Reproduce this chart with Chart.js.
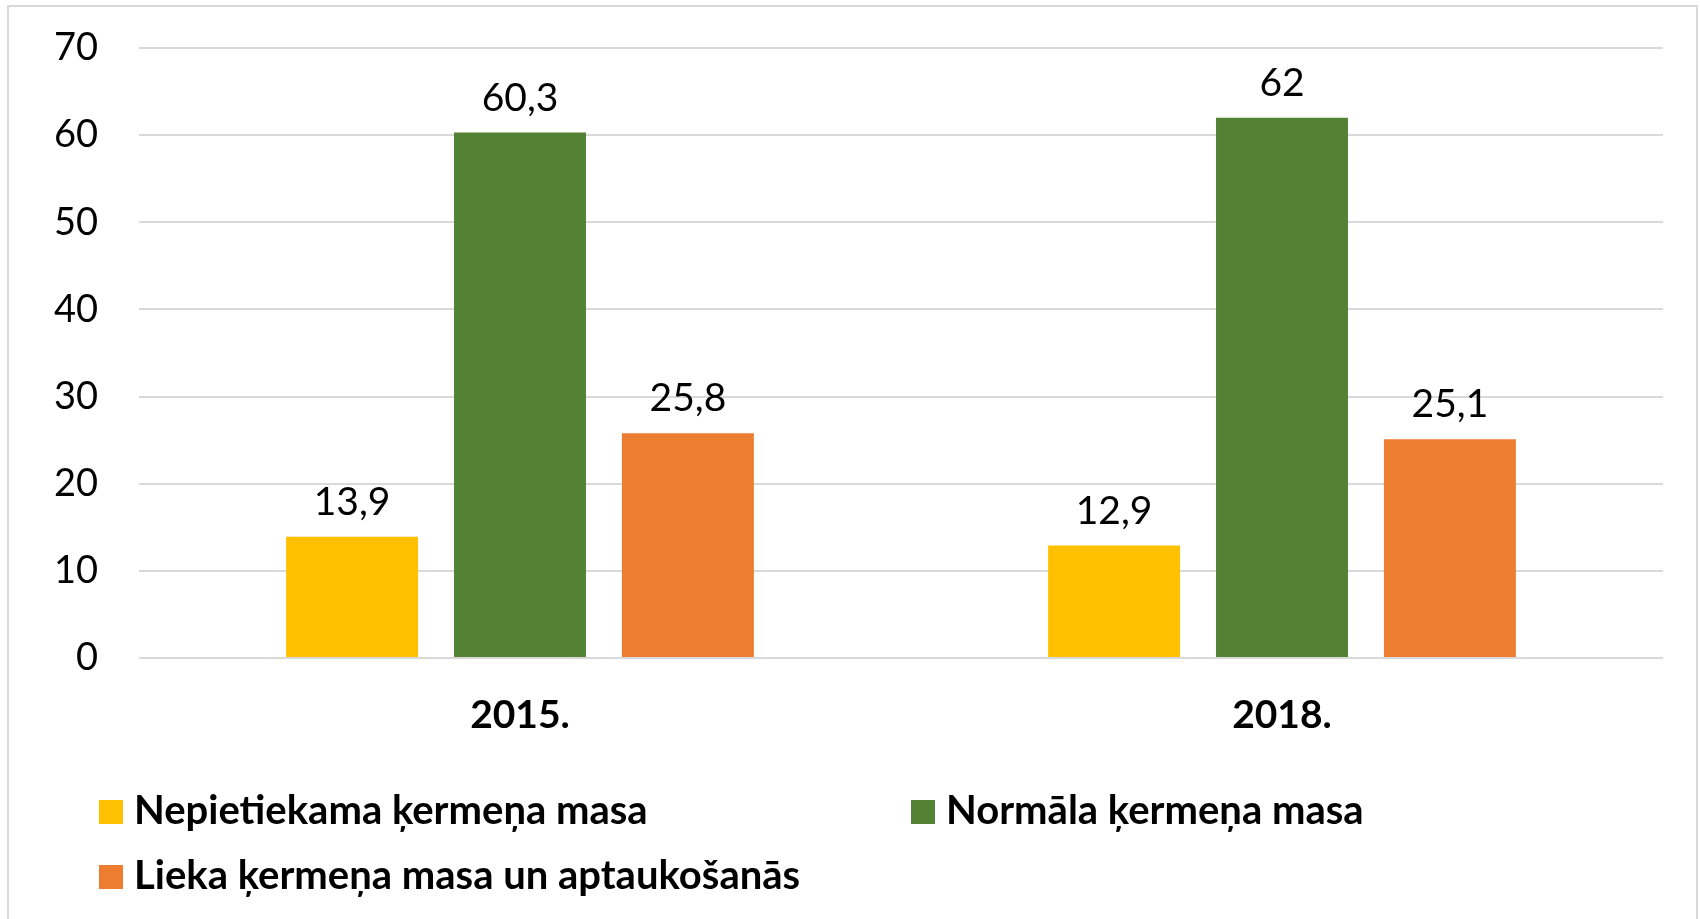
<!DOCTYPE html>
<html>
<head>
<meta charset="utf-8">
<script src="https://cdn.jsdelivr.net/npm/chart.js@4"></script>
<style>
  body { margin: 0; background: #fff; font-family: Lato, sans-serif; }
  #frame { position: absolute; left: 7px; top: 5px; width: 1687px; height: 940px; border: 2px solid #d9d9d9; }
  #wrap { position: absolute; left: 0; top: 0; width: 1700px; height: 760px; }
  #legend { position: absolute; left: 0; top: 0; width: 1700px; height: 919px; pointer-events: none; }
  .item { position: absolute; font: bold 40px Lato, sans-serif; color: #000; white-space: nowrap; line-height: 40px; }
  .item span.box { display: inline-block; width: 24px; height: 24px; margin-right: 11px; vertical-align: 0px; }
</style>
</head>
<body>
<div id="frame"></div>
<div id="wrap"><canvas id="graphiks"></canvas></div>
<div id="legend"></div>
<script>
var gadi = ["2015.", "2018."];
var nepietiekama = [13.9, 12.9];
var normala = [60.3, 62];
var lieka = [25.8, 25.1];
var asisTicks = [0, 10, 20, 30, 40, 50, 60, 70];

var nosaukumi = ["Nepietiekama ķermeņa masa", "Normāla ķermeņa masa", "Lieka ķermeņa masa un aptaukošanās"];
var krasas = ["#FFC000", "#548235", "#ED7D31"];

function formatet(v) {
    return String(v).replace(".", ",");
}

var vertibuEtiketes = {
    id: "vertibuEtiketes",
    afterDatasetsDraw: function(chart) {
        var ctx = chart.ctx;
        ctx.save();
        ctx.font = "39px Lato";
        ctx.fillStyle = "#000";
        ctx.textAlign = "center";
        ctx.textBaseline = "alphabetic";
        chart.data.datasets.forEach(function(ds, i) {
            chart.getDatasetMeta(i).data.forEach(function(bar, j) {
                ctx.fillText(formatet(ds.data[j]), bar.x, bar.y - 22);
            });
        });
        ctx.restore();
    }
};

var ctx = document.getElementById("graphiks").getContext("2d");
var chart = new Chart(ctx, {
    type: "bar",
    data: {
        labels: gadi,
        datasets: [
            { label: nosaukumi[0], data: nepietiekama, backgroundColor: krasas[0] },
            { label: nosaukumi[1], data: normala, backgroundColor: krasas[1] },
            { label: nosaukumi[2], data: lieka, backgroundColor: krasas[2] }
        ]
    },
    options: {
        responsive: true,
        maintainAspectRatio: false,
        animation: false,
        layout: { padding: { top: 48, right: 37, left: 0, bottom: 0 } },
        datasets: { bar: { categoryPercentage: 0.661, barPercentage: 0.786 } },
        plugins: {
            legend: { display: false },
            tooltip: { enabled: false }
        },
        scales: {
            x: {
                grid: { display: false },
                border: { display: false },
                ticks: { color: "#000", font: { family: "Lato", size: 39, weight: "bold" }, padding: 26 },
                afterFit: function(scale) { scale.height = 102; }
            },
            y: {
                min: 0,
                max: 70,
                afterBuildTicks: function(scale) {
                    scale.ticks = asisTicks.map(function(v) { return { value: v }; });
                },
                // tick marks kept invisible, they only push the labels away from the plot
                grid: { color: "#d9d9d9", lineWidth: 2, drawTicks: true, tickLength: 41, tickColor: "rgba(0,0,0,0)" },
                border: { display: false },
                ticks: { color: "#000", font: { family: "Lato", size: 38 }, padding: 0 },
                afterFit: function(scale) { scale.width = 139; }
            }
        }
    },
    plugins: [vertibuEtiketes]
});

// legend
var vietas = [[99, 789], [911, 789], [99, 854]];
var leg = document.getElementById("legend");
nosaukumi.forEach(function(n, i) {
    var d = document.createElement("div");
    d.className = "item";
    d.style.left = vietas[i][0] + "px";
    d.style.top = vietas[i][1] + "px";
    d.innerHTML = '<span class="box" style="background:' + krasas[i] + '"></span>' + n;
    leg.appendChild(d);
});
</script>
</body>
</html>
